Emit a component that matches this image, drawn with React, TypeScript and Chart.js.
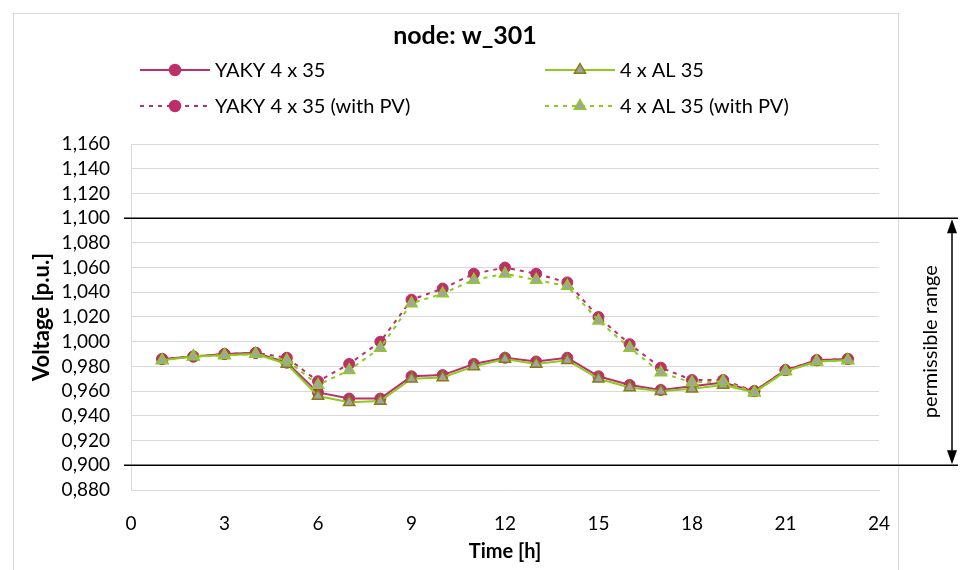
import React, { useEffect, useRef } from "react";
import { Chart, registerables } from "chart.js";

Chart.register(...registerables);

const hours = [1, 2, 3, 4, 5, 6, 7, 8, 9, 10, 11, 12, 13, 14, 15, 16, 17, 18, 19, 20, 21, 22, 23];
const yaky = [0.986, 0.988, 0.990, 0.991, 0.983, 0.959, 0.954, 0.954, 0.972, 0.973, 0.982, 0.987, 0.984, 0.987, 0.972, 0.965, 0.961, 0.964, 0.967, 0.960, 0.977, 0.985, 0.986];
const al = [0.985, 0.988, 0.989, 0.990, 0.982, 0.956, 0.951, 0.952, 0.970, 0.971, 0.980, 0.986, 0.982, 0.985, 0.970, 0.963, 0.960, 0.962, 0.965, 0.959, 0.976, 0.984, 0.985];
const yakyPV = [0.986, 0.988, 0.990, 0.991, 0.987, 0.968, 0.982, 1.000, 1.034, 1.043, 1.055, 1.060, 1.055, 1.048, 1.020, 0.998, 0.979, 0.969, 0.969, 0.960, 0.977, 0.985, 0.986];
const alPV = [0.985, 0.988, 0.989, 0.990, 0.985, 0.965, 0.977, 0.995, 1.031, 1.039, 1.050, 1.055, 1.050, 1.045, 1.017, 0.995, 0.975, 0.967, 0.968, 0.959, 0.976, 0.984, 0.985];

const yTickValues = [0.88, 0.9, 0.92, 0.94, 0.96, 0.98, 1.0, 1.02, 1.04, 1.06, 1.08, 1.1, 1.12, 1.14, 1.16];
const xTickValues = [0, 3, 6, 9, 12, 15, 18, 21, 24];
const limits = [1.1, 0.9];

const titleText = "node: w_301";
const seriesNames = ["YAKY 4 x 35", "4 x AL 35", "YAKY 4 x 35 (with PV)", "4 x AL 35 (with PV)"];
const rangeLabel = "permissible range";

const MAGENTA = "#BC2F69";
const GREEN = "#8CCB1F";
const OLIVE = "#867C12";
const GREY_FILL = "#A3A3A3";
const FONT = "Lato, 'Open Sans', sans-serif";

const toPts = (vals: number[]) => vals.map((v, i) => ({ x: hours[i], y: v }));

function drawMarker(ctx: CanvasRenderingContext2D, style: string, x: number, y: number, r: number, fill: string, stroke: string) {
  ctx.save();
  ctx.beginPath();
  if (style === "circle") {
    ctx.arc(x, y, r, 0, Math.PI * 2);
  } else {
    let rad = 0;
    const step = (Math.PI * 2) / 3;
    ctx.moveTo(x + Math.sin(rad) * r, y - Math.cos(rad) * r);
    rad += step;
    ctx.lineTo(x + Math.sin(rad) * r, y - Math.cos(rad) * r);
    rad += step;
    ctx.lineTo(x + Math.sin(rad) * r, y - Math.cos(rad) * r);
    ctx.closePath();
  }
  ctx.fillStyle = fill;
  ctx.fill();
  ctx.lineWidth = 1.5;
  ctx.strokeStyle = stroke;
  ctx.stroke();
  ctx.restore();
}

export default function App() {
  const ref = useRef<HTMLCanvasElement>(null);

  useEffect(() => {
    const canvas = ref.current;
    if (!canvas) return;

    const overlay = {
      id: "overlay",
      beforeDraw(chart: any) {
        const ctx = chart.ctx as CanvasRenderingContext2D;
        ctx.save();
        ctx.fillStyle = "#ffffff";
        ctx.fillRect(0, 0, chart.width, chart.height);
        ctx.strokeStyle = "#D9D9D9";
        ctx.lineWidth = 1;
        ctx.strokeRect(13.5, 13.5, 885, 600);
        ctx.restore();
      },
      afterDraw(chart: any) {
        const ctx = chart.ctx as CanvasRenderingContext2D;
        const yScale = chart.scales.y;
        const area = chart.chartArea;
        ctx.save();

        // title
        ctx.fillStyle = "#000";
        ctx.font = `bold 25px ${FONT}`;
        ctx.textAlign = "center";
        ctx.textBaseline = "middle";
        ctx.fillText(titleText, 465, 36);

        // legend
        const items = [
          { x: 140, y: 70, color: MAGENTA, dash: [] as number[], style: "circle", fill: MAGENTA, stroke: MAGENTA, r: 5.5 },
          { x: 545, y: 70, color: GREEN, dash: [] as number[], style: "triangle", fill: GREY_FILL, stroke: OLIVE, r: 6.5 },
          { x: 140, y: 106, color: MAGENTA, dash: [4, 5], style: "circle", fill: MAGENTA, stroke: MAGENTA, r: 5.5 },
          { x: 545, y: 106, color: GREEN, dash: [4, 5], style: "triangle", fill: GREY_FILL, stroke: GREEN, r: 6.5 },
        ];
        items.forEach((it, i) => {
          ctx.save();
          ctx.strokeStyle = it.color;
          ctx.lineWidth = 2;
          ctx.setLineDash(it.dash);
          ctx.beginPath();
          ctx.moveTo(it.x, it.y);
          ctx.lineTo(it.x + 70, it.y);
          ctx.stroke();
          ctx.restore();
          drawMarker(ctx, it.style, it.x + 35, it.y, it.r, it.fill, it.stroke);
          ctx.fillStyle = "#000";
          ctx.font = `20px ${FONT}`;
          ctx.textAlign = "left";
          ctx.textBaseline = "middle";
          ctx.fillText(seriesNames[i], it.x + 75, it.y + 1);
        });

        // limit lines
        const yTop = yScale.getPixelForValue(limits[0]);
        const yBot = yScale.getPixelForValue(limits[1]);
        ctx.strokeStyle = "#000";
        ctx.lineWidth = 1.5;
        [yTop, yBot].forEach((yy) => {
          ctx.beginPath();
          ctx.moveTo(area.left - 7, yy);
          ctx.lineTo(958, yy);
          ctx.stroke();
        });

        // double arrow
        const ax = 952;
        ctx.lineWidth = 1.5;
        ctx.beginPath();
        ctx.moveTo(ax, yTop + 12);
        ctx.lineTo(ax, yBot - 12);
        ctx.stroke();
        ctx.fillStyle = "#000";
        ctx.beginPath();
        ctx.moveTo(ax, yTop + 1);
        ctx.lineTo(ax - 5, yTop + 15);
        ctx.lineTo(ax + 5, yTop + 15);
        ctx.closePath();
        ctx.fill();
        ctx.beginPath();
        ctx.moveTo(ax, yBot - 1);
        ctx.lineTo(ax - 5, yBot - 15);
        ctx.lineTo(ax + 5, yBot - 15);
        ctx.closePath();
        ctx.fill();

        // rotated label
        ctx.save();
        ctx.translate(931, (yTop + yBot) / 2);
        ctx.rotate(-Math.PI / 2);
        ctx.font = `20px ${FONT}`;
        ctx.textAlign = "center";
        ctx.textBaseline = "middle";
        ctx.fillStyle = "#000";
        ctx.fillText(rangeLabel, 0, 0);
        ctx.restore();

        ctx.restore();
      },
    };

    const chart = new Chart(canvas, {
      type: "line",
      data: {
        datasets: [
          {
            label: seriesNames[0],
            data: toPts(yaky),
            borderColor: MAGENTA,
            backgroundColor: MAGENTA,
            borderWidth: 2,
            pointStyle: "circle",
            pointRadius: 5.5,
            pointBackgroundColor: MAGENTA,
            pointBorderColor: MAGENTA,
            pointBorderWidth: 1,
            order: 4,
          },
          {
            label: seriesNames[1],
            data: toPts(al),
            borderColor: GREEN,
            backgroundColor: GREY_FILL,
            borderWidth: 2,
            pointStyle: "triangle",
            pointRadius: 6.5,
            pointBackgroundColor: GREY_FILL,
            pointBorderColor: OLIVE,
            pointBorderWidth: 1.5,
            order: 2,
          },
          {
            label: seriesNames[2],
            data: toPts(yakyPV),
            borderColor: MAGENTA,
            backgroundColor: MAGENTA,
            borderWidth: 2,
            borderDash: [4, 5],
            pointStyle: "circle",
            pointRadius: 5.5,
            pointBackgroundColor: MAGENTA,
            pointBorderColor: MAGENTA,
            pointBorderWidth: 1,
            order: 3,
          },
          {
            label: seriesNames[3],
            data: toPts(alPV),
            borderColor: GREEN,
            backgroundColor: GREY_FILL,
            borderWidth: 2,
            borderDash: [4, 5],
            pointStyle: "triangle",
            pointRadius: 6.5,
            pointBackgroundColor: GREY_FILL,
            pointBorderColor: GREEN,
            pointBorderWidth: 1.5,
            order: 1,
          },
        ],
      },
      options: {
        animation: false,
        responsive: false,
        devicePixelRatio: 1,
        layout: { padding: { top: 144, left: 13, right: 81, bottom: 0 } },
        plugins: {
          legend: { display: false },
          title: { display: false },
          tooltip: { enabled: false },
        },
        scales: {
          x: {
            type: "linear",
            min: 0,
            max: 24,
            afterBuildTicks: (scale: any) => {
              scale.ticks = xTickValues.map((v) => ({ value: v }));
            },
            afterFit: (scale: any) => {
              scale.height = 80;
            },
            grid: { display: false, drawTicks: false },
            border: { display: true, color: "#D9D9D9", width: 1 },
            ticks: {
              autoSkip: false,
              maxRotation: 0,
              padding: 22,
              color: "#000",
              font: { family: FONT, size: 19 },
              callback: (v: any) => String(v),
            },
            title: {
              display: true,
              text: "Time [h]",
              color: "#000",
              font: { family: FONT, size: 20, weight: "bold" },
              padding: { top: 0, bottom: 6 },
            },
          },
          y: {
            type: "linear",
            min: 0.88,
            max: 1.16,
            afterBuildTicks: (scale: any) => {
              scale.ticks = yTickValues.map((v) => ({ value: v }));
            },
            afterFit: (scale: any) => {
              scale.width = 118;
            },
            grid: { display: true, color: "#D9D9D9", lineWidth: 1, drawTicks: false },
            border: { display: true, color: "#D9D9D9", width: 1 },
            ticks: {
              autoSkip: false,
              padding: 21,
              color: "#000",
              font: { family: FONT, size: 19, lineHeight: 1 },
              callback: (v: any) => Number(v).toFixed(3).replace(".", ","),
            },
            title: {
              display: true,
              text: "Voltage [p.u.]",
              color: "#000",
              font: { family: FONT, size: 22, weight: "bold" },
              padding: { top: 16, bottom: 0 },
            },
          },
        },
      },
      plugins: [overlay],
    } as any);

    return () => chart.destroy();
  }, []);

  return (
    <div style={{ position: "fixed", left: 0, top: 0, width: 960, height: 570, background: "#fff" }}>
      <canvas ref={ref} width={960} height={570} style={{ display: "block", width: 960, height: 570 }} />
    </div>
  );
}
